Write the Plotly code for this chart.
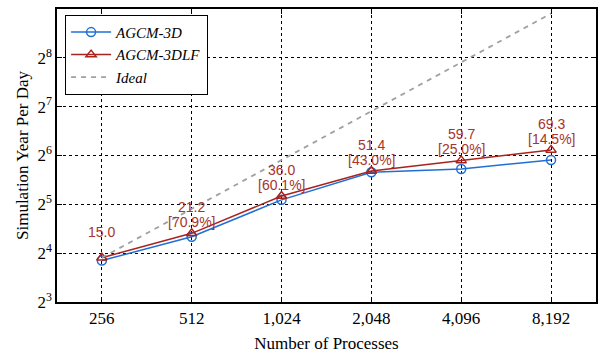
import math
import plotly.graph_objects as go

# Strong-scaling results: simulated years per wall-clock day
processes = [256, 512, 1024, 2048, 4096, 8192]
proc_labels = ["256", "512", "1,024", "2,048", "4,096", "8,192"]
agcm_3d = [14.4, 20.2, 34.1, 50.4, 52.9, 60.1]
agcm_3dlf = [15.0, 21.2, 36.0, 51.4, 59.7, 69.3]
efficiency = ["", "[70.9%]", "[60.1%]", "[43.0%]", "[25.0%]", "[14.5%]"]
ideal = [15.0, 30.0, 60.0, 120.0, 240.0, 480.0]

y_ticks = [8, 16, 32, 64, 128, 256, 512]
y_tick_text = ["2<sup>%d</sup>" % p for p in range(3, 10)]

BLUE = "#1f6fd6"
RED = "#a8231d"
LABEL_RED = "#a8332b"
SERIF = "Liberation Serif"
SANS = "Liberation Sans"

fig = go.Figure()
fig.add_trace(go.Scatter(
    x=processes, y=agcm_3d, name="AGCM-3D", mode="lines+markers",
    line=dict(color=BLUE, width=1.5),
    marker=dict(symbol="circle-open", size=9, color=BLUE, line=dict(width=1.5)),
))
fig.add_trace(go.Scatter(
    x=processes, y=agcm_3dlf, name="AGCM-3DLF", mode="lines+markers",
    line=dict(color=RED, width=1.5),
    marker=dict(symbol="triangle-up-open", size=9, color=RED, line=dict(width=1.5)),
))
fig.add_trace(go.Scatter(
    x=processes, y=ideal, name="Ideal", mode="lines",
    line=dict(color="#a0a0a0", width=1.8, dash="5px,5px"),
))

# value and parallel-efficiency labels above the AGCM-3DLF points
# (annotation positions on log axes are given in log10 units)
for xv, yv, eff in zip(processes, agcm_3dlf, efficiency):
    ax, ay = math.log10(xv), math.log10(yv)
    fig.add_annotation(x=ax, y=ay, xref="x", yref="y", showarrow=False,
                       text=eff, yanchor="bottom", yshift=2, borderpad=0,
                       font=dict(family=SANS, size=14, color=LABEL_RED))
    fig.add_annotation(x=ax, y=ay, xref="x", yref="y", showarrow=False,
                       text="%.1f" % yv, yanchor="bottom", yshift=17, borderpad=0,
                       font=dict(family=SANS, size=14, color=LABEL_RED))

axis_common = dict(
    showline=True, linecolor="black", linewidth=1.5, mirror="ticks",
    ticks="inside", ticklen=5, tickcolor="black", tickwidth=1,
    showgrid=True, gridcolor="black", gridwidth=1, griddash="dot",
    zeroline=False,
    tickfont=dict(family=SERIF, size=17, color="black"),
)

fig.update_xaxes(
    type="log", range=[2.258, 4.064],
    tickvals=processes, ticktext=proc_labels,
    title=dict(text="Number of Processes", font=dict(family=SERIF, size=17, color="black"),
               standoff=10),
    **axis_common,
)
fig.update_yaxes(
    type="log", range=[0.90309, 2.70927],
    tickvals=y_ticks, ticktext=y_tick_text,
    title=dict(text="Simulation Year Per Day", font=dict(family=SERIF, size=17, color="black"),
               standoff=4),
    **axis_common,
)

fig.update_layout(
    width=603, height=362,
    margin=dict(l=57, r=5, t=9, b=60),
    plot_bgcolor="white", paper_bgcolor="white",
    showlegend=True,
    legend=dict(
        x=0.015, y=0.98, xanchor="left", yanchor="top",
        bgcolor="white", bordercolor="black", borderwidth=1,
        font=dict(family=SERIF, size=15, color="black", style="italic"),
        itemwidth=40, tracegroupgap=0,
    ),
)

fig.write_html("out.html")
